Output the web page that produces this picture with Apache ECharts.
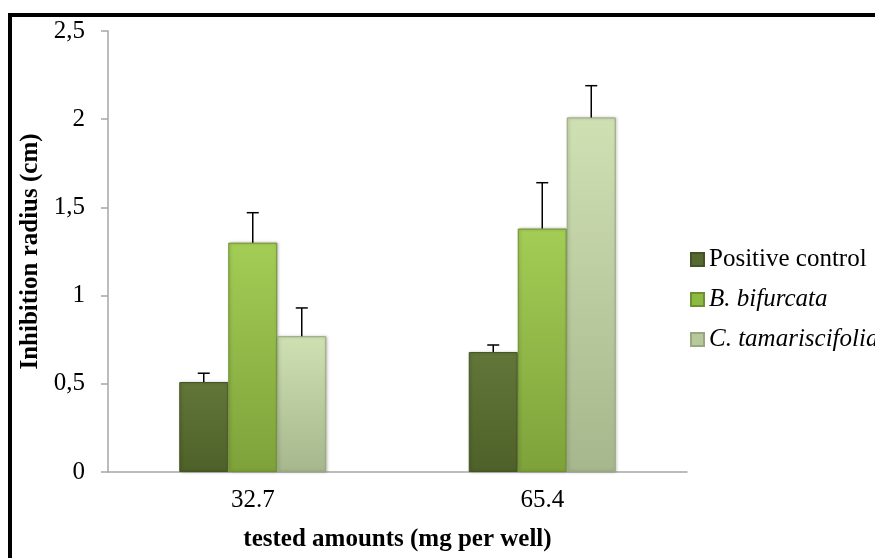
<!DOCTYPE html>
<html>
<head>
<meta charset="utf-8">
<script src="https://cdn.jsdelivr.net/npm/echarts@6/dist/echarts.min.js"></script>
<style>
  html, body { margin: 0; padding: 0; background: #ffffff; }
  #chart { width: 875px; height: 558px; }
</style>
</head>
<body>
<div id="chart"></div>
<script>
// Inhibition radius per tested amount, mean and standard deviation
const categories = ['32.7', '65.4'];
const seriesNames = ['Positive control', 'B. bifurcata', 'C. tamariscifolia'];
const positiveControl = [0.51, 0.68];
const bBifurcata = [1.30, 1.38];
const cTamariscifolia = [0.77, 2.01];
const positiveControlErr = [0.05, 0.04];
const bBifurcataErr = [0.17, 0.26];
const cTamariscifoliaErr = [0.16, 0.18];
const yTicks = [0, 0.5, 1, 1.5, 2, 2.5];
const yTickLabels = ['0', '0,5', '1', '1,5', '2', '2,5'];

const means = [positiveControl, bBifurcata, cTamariscifolia];
const errs = [positiveControlErr, bBifurcataErr, cTamariscifoliaErr];

const FONT = 'Liberation Serif';
const FS = 25;
const BAR_W = 49;

// Bar fills: top-to-bottom shading
const fills = [
  ['#62763a', '#4e6128'],
  ['#a3cd55', '#7ea23a'],
  ['#cfe0b3', '#a7b78d']
];
const edges = ['#435424', '#6f9030', '#98a87e'];

const chart = echarts.init(document.getElementById('chart'), null, { renderer: 'canvas' });

const barSeries = seriesNames.map((name, i) => ({
  name: name,
  type: 'bar',
  barWidth: BAR_W,
  barGap: '0%',
  data: means[i],
  itemStyle: {
    color: new echarts.graphic.LinearGradient(0, 0, 0, 1, [
      { offset: 0, color: fills[i][0] },
      { offset: 1, color: fills[i][1] }
    ]),
    borderColor: edges[i],
    borderWidth: 1,
    shadowColor: 'rgba(0,0,0,0.25)',
    shadowBlur: 3,
    shadowOffsetX: 1
  },
  z: 2
}));

// Error bar items: [category index, mean, deviation, series index]
const errData = [];
means.forEach((arr, s) => arr.forEach((v, c) => errData.push([c, v, errs[s][c], s])));

const errSeries = {
  type: 'custom',
  name: 'err',
  data: errData,
  z: 5,
  silent: true,
  renderItem: function (params, api) {
    const c = api.value(0), v = api.value(1), e = api.value(2), s = api.value(3);
    const base = api.coord([c, v]);
    const top = api.coord([c, v + e]);
    const x = base[0] + (s - 1) * BAR_W;
    const cap = 6;
    return {
      type: 'group',
      children: [
        { type: 'line', shape: { x1: x, y1: base[1], x2: x, y2: top[1] },
          style: { stroke: '#000', lineWidth: 1.5 } },
        { type: 'line', shape: { x1: x - cap, y1: top[1], x2: x + cap, y2: top[1] },
          style: { stroke: '#000', lineWidth: 1.5 } }
      ]
    };
  }
};

const legendIconColors = ['#56692f', '#8dbb42', '#b7c99a'];

chart.setOption({
  backgroundColor: '#ffffff',
  animation: false,
  textStyle: { fontFamily: FONT },
  grid: { left: 108, right: 188, top: 31, bottom: 86, containLabel: false },
  graphic: [
    { type: 'rect', shape: { x: 10, y: 15, width: 900, height: 600 },
      style: { fill: 'none', stroke: '#000', lineWidth: 4 }, z: 100 }
  ],
  legend: {
    orient: 'vertical',
    left: 690,
    top: 247,
    padding: 0,
    itemWidth: 13,
    itemHeight: 13,
    itemGap: 15,
    icon: 'rect',
    data: seriesNames.map((n, i) => ({
      name: n,
      itemStyle: { color: legendIconColors[i] },
      textStyle: {
        fontFamily: FONT, fontSize: FS, color: '#000',
        fontStyle: i === 0 ? 'normal' : 'italic'
      }
    })),
    textStyle: { fontFamily: FONT, fontSize: FS, color: '#000' }
  },
  xAxis: {
    type: 'category',
    data: categories,
    name: 'tested amounts (mg per well)',
    nameLocation: 'middle',
    nameGap: 55,
    nameTextStyle: { fontFamily: FONT, fontSize: FS, fontWeight: 'bold', color: '#000' },
    axisLine: { show: true, lineStyle: { color: '#a6a6a6', width: 1.5 } },
    axisTick: { show: false },
    axisLabel: { fontFamily: FONT, fontSize: FS, color: '#000', margin: 16 },
    splitLine: { show: false }
  },
  yAxis: {
    type: 'value',
    min: 0,
    max: 2.5,
    interval: 0.5,
    name: 'Inhibition radius (cm)',
    nameLocation: 'middle',
    nameGap: 55,
    nameTextStyle: { fontFamily: FONT, fontSize: FS, fontWeight: 'bold', color: '#000' },
    axisLine: { show: true, lineStyle: { color: '#a6a6a6', width: 1.5 } },
    axisTick: { show: true, inside: false, length: 7, lineStyle: { color: '#a6a6a6', width: 1.5 } },
    axisLabel: {
      fontFamily: FONT, fontSize: FS, color: '#000', margin: 23,
      formatter: function (v) {
        const k = yTicks.findIndex(t => Math.abs(t - v) < 1e-9);
        return k >= 0 ? yTickLabels[k] : String(v);
      }
    },
    splitLine: { show: false }
  },
  series: barSeries.concat([errSeries])
});
</script>
</body>
</html>
